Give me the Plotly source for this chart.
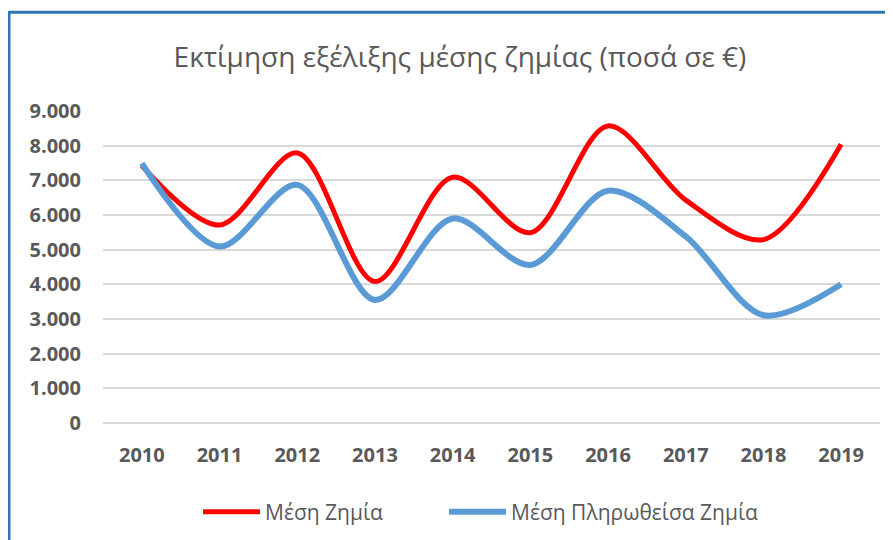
import plotly.graph_objects as go

years = ["2010", "2011", "2012", "2013", "2014", "2015", "2016", "2017", "2018", "2019"]
mesi_zimia = [7420, 5710, 7790, 4080, 7090, 5490, 8570, 6430, 5290, 8040]
mesi_pliroth = [7490, 5090, 6870, 3550, 5900, 4560, 6700, 5380, 3110, 4000]
y_ticks = [0, 1000, 2000, 3000, 4000, 5000, 6000, 7000, 8000, 9000]

FONT = "Open Sans, sans-serif"
GREY = "#595959"

fig = go.Figure()
fig.add_trace(go.Scatter(x=years, y=mesi_zimia, name="Μέση Ζημία", mode="lines", legend="legend",
                         line=dict(color="#FF0000", width=5, shape="spline", smoothing=0.9)))
fig.add_trace(go.Scatter(x=years, y=mesi_pliroth, name="Μέση Πληρωθείσα Ζημία", mode="lines",
                         legend="legend2",
                         line=dict(color="#5B9BD5", width=6, shape="spline", smoothing=0.9)))

# figure-space geometry (page offset of 8px removed)
OFF = 8
W, H = 893 - OFF, 540
L, R, T, B = 103 - OFF, 880 - OFF, 111 - OFF, 423 - OFF
pw, ph = R - L, B - T
def px(x):
    return (x - OFF - L) / pw
def py(y):
    return (B - (y - OFF)) / ph

border = "#2E75B6"
fig.add_shape(type="line", xref="paper", yref="paper", x0=px(9), x1=px(900), y0=py(12.3), y1=py(12.3),
              line=dict(color=border, width=3))
fig.add_shape(type="line", xref="paper", yref="paper", x0=px(9), x1=px(9), y0=py(11), y1=py(560),
              line=dict(color=border, width=3))

leg_common = dict(orientation="h", xanchor="left", y=py(512), yanchor="middle",
                  font=dict(family=FONT, size=21, color=GREY), itemwidth=57,
                  bgcolor="rgba(0,0,0,0)")

fig.update_layout(
    width=W, height=H,
    margin=dict(l=L, r=W - R, t=T, b=H - B),
    paper_bgcolor="white", plot_bgcolor="white",
    separators=",.",
    title=dict(text="Εκτίμηση εξέλιξης μέσης ζημίας (ποσά σε €)", x=px(460), xref="paper",
               xanchor="center", y=1 - (57.5 - OFF) / H, yanchor="middle",
               font=dict(family=FONT, size=28, color=GREY)),
    xaxis=dict(type="category", range=[-0.5, 9.5], showgrid=False, showline=False, ticks="",
               tickfont=dict(family=FONT, size=20, color=GREY, weight="bold"),
               ticklabelstandoff=18),
    yaxis=dict(range=[0, 9000], tickvals=y_ticks, tickformat=",d", showgrid=True,
               gridcolor="#D9D9D9", gridwidth=1.5, zeroline=True, zerolinecolor="#D9D9D9",
               zerolinewidth=1.5, showline=False, ticks="",
               tickfont=dict(family=FONT, size=20, color=GREY, weight="bold"),
               ticklabelstandoff=21),
    legend=dict(x=px(198), **leg_common),
    legend2=dict(x=px(444), **leg_common),
    showlegend=True,
)

fig.write_html("out.html")
